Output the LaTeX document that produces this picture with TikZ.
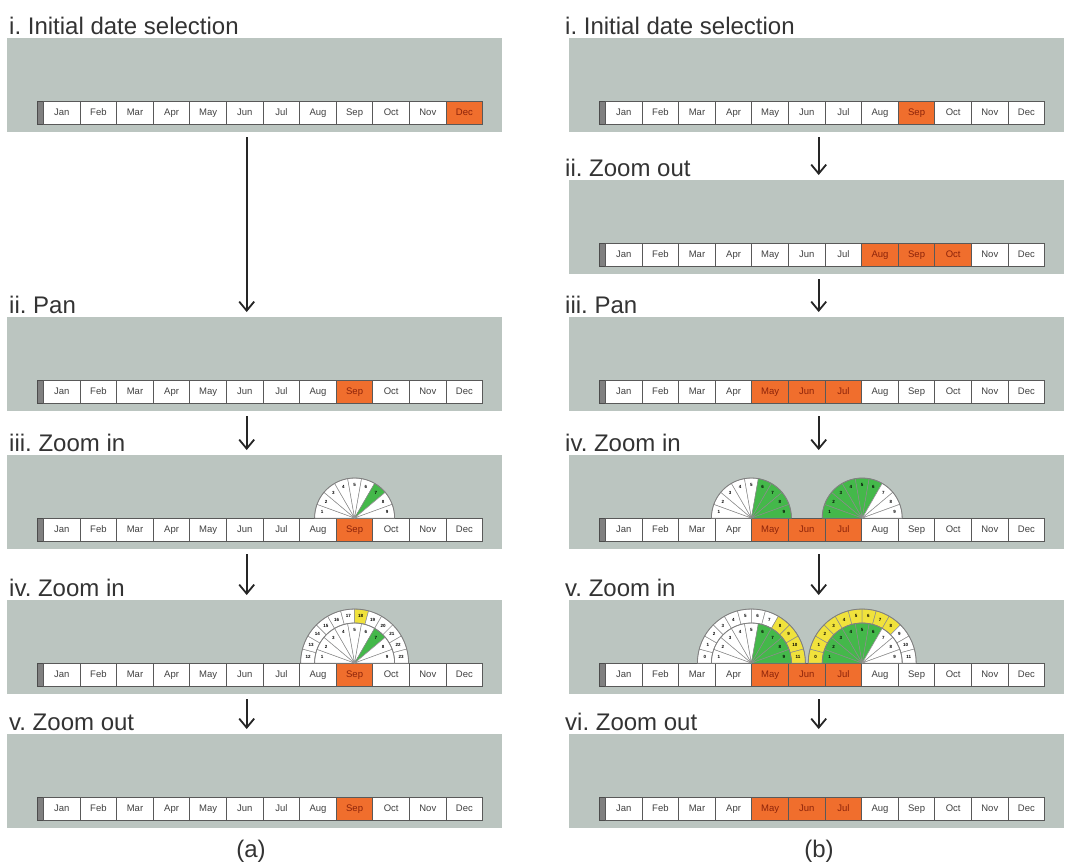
\documentclass[tikz,border=0pt]{standalone}
\usepackage{fontspec}
\setmainfont{Liberation Sans}
\usetikzlibrary{arrows.meta}
\definecolor{grispanneau}{RGB}{187,197,192}
\definecolor{orangesel}{RGB}{240,110,45}
\definecolor{textesel}{RGB}{140,35,10}
\definecolor{vert}{RGB}{68,184,74}
\definecolor{jaune}{RGB}{240,226,60}
\frenchspacing
\begin{document}
\begin{tikzpicture}[x=1pt,y=-1pt]
	\tikzstyle{panneau}=[fill=grispanneau,inner sep=0,minimum width=495pt,minimum height=94pt,anchor=north west]
	\tikzstyle{titre}=[anchor=base west,inner sep=0,text=black!80,font=\fontsize{24}{28}\selectfont]
	\tikzstyle{poignee}=[draw=black!70,fill=black!50,line width=0.6pt,inner sep=0,minimum width=6pt,minimum height=23pt,anchor=north west]
	\tikzstyle{mois}=[draw=black!65,fill=white,line width=1pt,inner sep=0,minimum width=36.6pt,minimum height=23pt,text height=7pt,text depth=2pt,anchor=north west,text=black!75,font=\fontsize{9.5}{10}\selectfont]
	\tikzstyle{moischoisi}=[mois,fill=orangesel,text=textesel]
	\tikzstyle{case}=[draw=black!45,line width=0.5pt]
	\tikzstyle{chiffre}=[inner sep=0,font=\fontsize{4.5}{5}\selectfont\bfseries]
	\tikzstyle{fleche}=[-{Straight Barb[length=9pt,width=15pt]},line width=1.8pt,black!85,shorten <=5pt,shorten >=5pt]
	\tikzstyle{legende}=[font=\fontsize{24}{28}\selectfont,text=black!80]
	\def\ColA{7}
	\def\ColB{569}
	\def\ListeMois{Jan,Feb,Mar,Apr,May,Jun,Jul,Aug,Sep,Oct,Nov,Dec}
	% panneau : nom, x, y, premier et dernier mois choisis
	\def\Panneau#1#2#3#4#5{
		\node[panneau] (#1) at (#2,#3) {};
		\node[poignee] (#1h) at (#2+30,#3+63) {};
		\foreach \m [count=\i] in \ListeMois {
			\pgfmathtruncatemacro\sel{(\i>=#4)&&(\i<=#5)}
			\ifnum\sel=1
				\node[moischoisi] (#1m\i) at ({#2+36+(\i-1)*36.6},#3+63) {\m};
			\else
				\node[mois] (#1m\i) at ({#2+36+(\i-1)*36.6},#3+63) {\m};
			\fi
		}
	}
	% anneau : centre, rayons, nombre de cases, premier chiffre, couleur, cases colorees
	\def\Anneau#1#2#3#4#5#6#7#8{
		\begin{scope}[shift={(#1)},y=1pt]
			\foreach \k in {1,...,#4}{
				\pgfmathsetmacro\da{180-(\k-1)*180/#4}
				\pgfmathsetmacro\db{180-\k*180/#4}
				\pgfmathtruncatemacro\sel{(\k>=#7)&&(\k<=#8)}
				\pgfmathtruncatemacro\lab{#5+\k-1}
				\ifnum\sel=1 \def\fond{#6}\else\def\fond{white}\fi
				\filldraw[case,fill=\fond] (\da:#2) arc[start angle=\da,end angle=\db,radius=#2] -- (\db:#3) arc[start angle=\db,end angle=\da,radius=#3] -- cycle;
				\node[chiffre] (#1r#3n\k) at ({(\da+\db)/2}:#3-7) {\lab};
			}
			\draw[black!50,line width=0.8pt] (180:#3) arc[start angle=180,end angle=0,radius=#3];
		\end{scope}
	}
	\useasboundingbox (0,0) rectangle (1065,863);
	% colonne (a)
	\Panneau{Pa1}{\ColA}{38}{12}{12}
	\Panneau{Pa2}{\ColA}{317}{9}{9}
	\Panneau{Pa3}{\ColA}{455}{9}{9}
	\Panneau{Pa4}{\ColA}{600}{9}{9}
	\Panneau{Pa5}{\ColA}{734}{9}{9}
	\node[titre] (Ta1) at (\ColA+2,34) {i. Initial date selection};
	\node[titre] (Ta2) at (\ColA+2,313) {ii. Pan};
	\node[titre] (Ta3) at (\ColA+2,451) {iii. Zoom in};
	\node[titre] (Ta4) at (\ColA+2,596) {iv. Zoom in};
	\node[titre] (Ta5) at (\ColA+2,730) {v. Zoom out};
	% colonne (b)
	\Panneau{Pb1}{\ColB}{38}{9}{9}
	\Panneau{Pb2}{\ColB}{180}{8}{10}
	\Panneau{Pb3}{\ColB}{317}{5}{7}
	\Panneau{Pb4}{\ColB}{455}{5}{7}
	\Panneau{Pb5}{\ColB}{600}{5}{7}
	\Panneau{Pb6}{\ColB}{734}{5}{7}
	\node[titre] (Tb1) at (\ColB-4,34) {i. Initial date selection};
	\node[titre] (Tb2) at (\ColB-4,176) {ii. Zoom out};
	\node[titre] (Tb3) at (\ColB-4,313) {iii. Pan};
	\node[titre] (Tb4) at (\ColB-4,451) {iv. Zoom in};
	\node[titre] (Tb5) at (\ColB-4,596) {v. Zoom in};
	\node[titre] (Tb6) at (\ColB-4,730) {vi. Zoom out};
	% eventails
	\coordinate (fa3) at (Pa3m9.north);
	\Anneau{fa3}{0.1}{40}{9}{1}{vert}{7}{7}
	\coordinate (fa4) at (Pa4m9.north);
	\Anneau{fa4}{40}{54}{12}{12}{jaune}{7}{7}
	\Anneau{fa4}{0.1}{40}{9}{1}{vert}{7}{7}
	\coordinate (gb4) at (Pb4m5.north west);
	\coordinate (db4) at (Pb4m7.north east);
	\Anneau{gb4}{0.1}{40}{9}{1}{vert}{6}{9}
	\Anneau{db4}{0.1}{40}{9}{1}{vert}{1}{6}
	\coordinate (gb5) at (Pb5m5.north west);
	\coordinate (db5) at (Pb5m7.north east);
	\Anneau{gb5}{40}{54}{12}{0}{jaune}{9}{12}
	\Anneau{gb5}{0.1}{40}{9}{1}{vert}{6}{9}
	\Anneau{db5}{40}{54}{12}{0}{jaune}{1}{9}
	\Anneau{db5}{0.1}{40}{9}{1}{vert}{1}{6}
	% fleches
	\draw[fleche] ([xshift=-8pt]Pa1.south) -- ([xshift=-8pt]Pa2.north);
	\draw[fleche] ([xshift=-8pt]Pa2.south) -- ([xshift=-8pt]Pa3.north);
	\draw[fleche] ([xshift=-8pt]Pa3.south) -- ([xshift=-8pt]Pa4.north);
	\draw[fleche] ([xshift=-8pt]Pa4.south) -- ([xshift=-8pt]Pa5.north);
	\draw[fleche] ([xshift=2pt]Pb1.south) -- ([xshift=2pt]Pb2.north);
	\draw[fleche] ([xshift=2pt]Pb2.south) -- ([xshift=2pt]Pb3.north);
	\draw[fleche] ([xshift=2pt]Pb3.south) -- ([xshift=2pt]Pb4.north);
	\draw[fleche] ([xshift=2pt]Pb4.south) -- ([xshift=2pt]Pb5.north);
	\draw[fleche] ([xshift=2pt]Pb5.south) -- ([xshift=2pt]Pb6.north);
	\node[legende] (La) at (251,851) {(a)};
	\node[legende] (Lb) at (819,851) {(b)};
\end{tikzpicture}
\end{document}
